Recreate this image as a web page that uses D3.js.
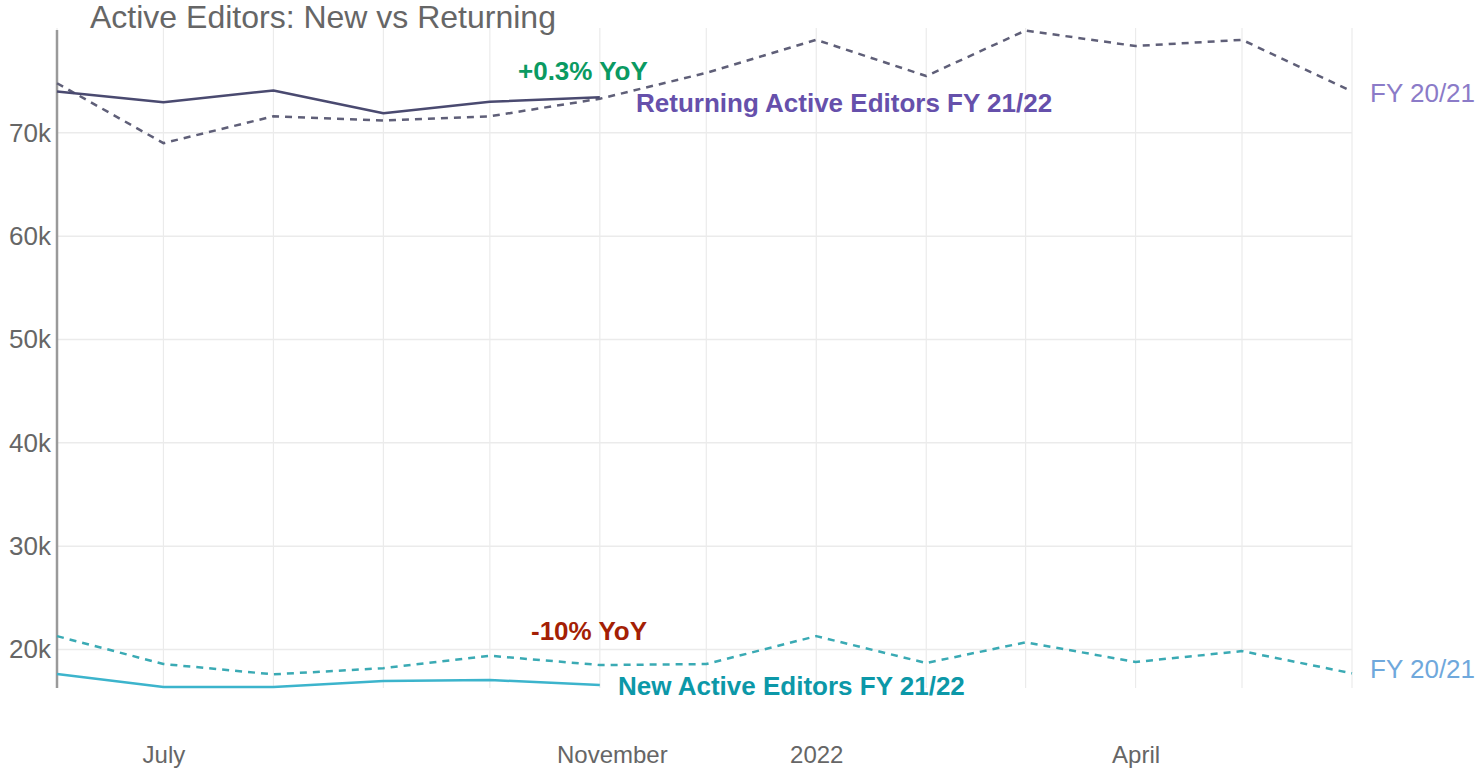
<!DOCTYPE html>
<html>
<head>
<meta charset="utf-8">
<script src="https://cdn.jsdelivr.net/npm/d3@7"></script>
<style>
  body { margin: 0; background: #fff; }
  svg { display: block; font-family: "Liberation Sans", Arial, sans-serif; }
</style>
</head>
<body>
<svg id="chart" width="1480" height="768"></svg>
<script>
// months of the fiscal year, June to June
const months = ['2021-06-01', '2021-07-01', '2021-08-01', '2021-09-01', '2021-10-01', '2021-11-01',
  '2021-12-01', '2022-01-01', '2022-02-01', '2022-03-01', '2022-04-01', '2022-05-01', '2022-06-01'];

// active editors
const returning2122 = [74000, 72950, 74100, 71900, 73000, 73450];
const returning2021 = [74800, 69000, 71600, 71200, 71600, 73300, 75800, 79000, 75500, 79900, 78400, 79000, 74000];
const new2122 = [17630, 16370, 16370, 16950, 17050, 16570];
const new2021 = [21300, 18600, 17600, 18200, 19400, 18500, 18600, 21300, 18700, 20700, 18800, 19850, 17700];

const yTicks = [20000, 30000, 40000, 50000, 60000, 70000];
const xTickDates = ['2021-07-01', '2021-11-01', '2022-01-01', '2022-04-01'];
const xTickLabels = ['July', 'November', '2022', 'April'];

const parse = d3.utcParse('%Y-%m-%d');
const dates = months.map(parse);

const svg = d3.select('#chart');
const plotLeft = 57, plotRight = 1352, plotTop = 30, plotBottom = 688;

const xScale = d3.scaleUtc()
  .domain(d3.extent(dates))
  .range([plotLeft, plotRight]);

const yScale = d3.scaleLinear()
  .domain([16280, 79950])
  .range([plotBottom, plotTop]);

// grid
svg.append('g')
  .selectAll('line')
  .data(dates)
  .join('line')
  .attr('x1', d => xScale(d)).attr('x2', d => xScale(d))
  .attr('y1', plotTop - 2).attr('y2', plotBottom)
  .attr('stroke', '#ebebeb').attr('stroke-width', 1.2);

svg.append('g')
  .selectAll('line')
  .data(yTicks)
  .join('line')
  .attr('x1', plotLeft).attr('x2', plotRight)
  .attr('y1', d => yScale(d)).attr('y2', d => yScale(d))
  .attr('stroke', '#ebebeb').attr('stroke-width', 1.5);

// y axis
const yAxis = svg.append('g')
  .attr('transform', `translate(${plotLeft},0)`)
  .call(d3.axisLeft(yScale).tickValues(yTicks).tickSize(0).tickPadding(6)
    .tickFormat(d => (d / 1000) + 'k'));
yAxis.select('.domain').remove();
yAxis.selectAll('text')
  .attr('font-size', 26)
  .attr('fill', '#666')
  .attr('font-family', '"Liberation Sans", Arial, sans-serif');

svg.append('line')
  .attr('x1', plotLeft).attr('x2', plotLeft)
  .attr('y1', plotTop).attr('y2', plotBottom)
  .attr('stroke', '#9a9a9a').attr('stroke-width', 2.5);

// x axis
const xAxis = svg.append('g')
  .attr('transform', `translate(0,${plotBottom})`)
  .call(d3.axisBottom(xScale).tickValues(xTickDates.map(parse)).tickSize(0).tickPadding(58)
    .tickFormat((d, i) => xTickLabels[i]));
xAxis.select('.domain').remove();
xAxis.selectAll('text')
  .attr('font-size', 24)
  .attr('fill', '#666')
  .attr('font-family', '"Liberation Sans", Arial, sans-serif')
  .attr('dx', (d, i) => xTickLabels[i] === 'November' ? 12 : 0);

// lines
const line = d3.line()
  .x((d, i) => xScale(dates[i]))
  .y(d => yScale(d));

const series = [
  { values: returning2021, color: '#5f5f78', dash: '7,6' },
  { values: returning2122, color: '#4a4a70', dash: null },
  { values: new2021, color: '#3aaab4', dash: '7,6' },
  { values: new2122, color: '#3cb4cc', dash: null }
];

svg.append('g')
  .selectAll('path')
  .data(series)
  .join('path')
  .attr('fill', 'none')
  .attr('stroke', d => d.color)
  .attr('stroke-width', 2.5)
  .attr('stroke-dasharray', d => d.dash)
  .attr('stroke-linejoin', 'round')
  .attr('d', d => line(d.values));

// labels
const labels = [
  { text: 'Active Editors: New vs Returning', x: 90, y: 28, size: 32, weight: 'normal', color: '#666' },
  { text: '+0.3% YoY', x: 518, y: 80, size: 26, weight: 'bold', color: '#0a9a62' },
  { text: 'Returning Active Editors FY 21/22', x: 636, y: 112, size: 26, weight: 'bold', color: '#6650ab' },
  { text: 'FY 20/21', x: 1370, y: 102, size: 26, weight: 'normal', color: '#8b7bc8' },
  { text: '-10% YoY', x: 531, y: 640, size: 26, weight: 'bold', color: '#a41f05' },
  { text: 'New Active Editors FY 21/22', x: 618, y: 695, size: 26, weight: 'bold', color: '#0c98a8' },
  { text: 'FY 20/21', x: 1370, y: 678, size: 26, weight: 'normal', color: '#6fa8dc' }
];

svg.append('g')
  .selectAll('text')
  .data(labels)
  .join('text')
  .attr('x', d => d.x)
  .attr('y', d => d.y)
  .attr('font-size', d => d.size)
  .attr('font-weight', d => d.weight)
  .attr('fill', d => d.color)
  .text(d => d.text);
</script>
</body>
</html>
